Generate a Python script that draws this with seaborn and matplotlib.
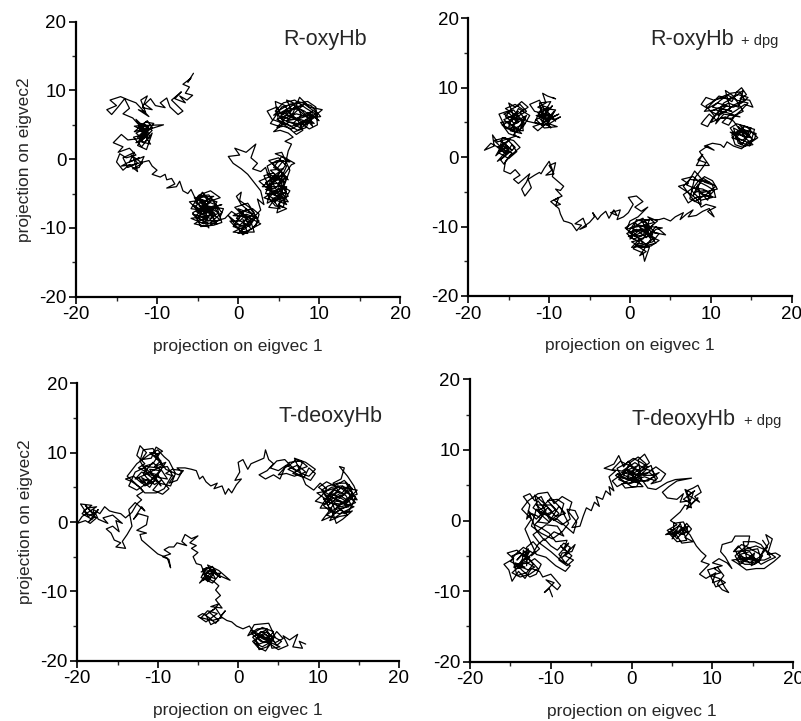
import matplotlib
matplotlib.use("Agg")
import matplotlib.pyplot as plt
from matplotlib.ticker import MultipleLocator
import seaborn as sns
import pandas as pd

# Trajectory of each system projected on the first two eigenvectors (x = eigvec 1, y = eigvec 2)
r_oxy = [
    (-5.5, 12.5), (-6.2, 11.2), (-5.8, 11.8), (-6.8, 10.9), (-6.0, 10.5), (-6.5, 9.6), (-5.6, 9.3), (-6.3, 8.6),
    (-7.2, 9.2), (-6.5, 8.2), (-7.8, 8.8), (-7.0, 9.8), (-8.2, 8.6), (-7.5, 7.8), (-6.8, 7.0), (-7.4, 6.5),
    (-8.4, 7.6), (-8.8, 8.9), (-9.6, 8.2), (-9.0, 7.5),
    (-10.2, 7.8), (-10.8, 8.8), (-11.5, 8.0), (-10.6, 7.2), (-11.8, 7.5), (-11.2, 9.2), (-12.0, 8.6), (-11.4, 6.8),
    (-12.3, 7.2), (-11.0, 6.2), (-12.6, 8.2), (-13.5, 8.6),
    (-14.5, 9.1), (-15.8, 8.6), (-15.0, 7.8), (-16.2, 7.2), (-15.6, 6.5), (-14.8, 7.6), (-14.0, 8.8), (-13.4, 7.4),
    (-14.2, 6.6), (-13.0, 6.0),
    (-12.4, 5.2), (-11.6, 4.4), (-12.8, 4.0), (-11.2, 5.6), (-10.6, 4.6), (-12.0, 3.4), (-11.0, 3.0), (-12.6, 5.8),
    (-11.8, 4.9), (-9.2, 5.0), (-11.4, 4.2), (-12.2, 2.6), (-10.8, 2.2), (-11.6, 3.6), (-12.9, 3.2), (-11.9, 1.8),
    (-10.6, 3.8), (-11.3, 1.4), (-12.4, 2.0), (-11.0, 4.8), (-12.4, 4.6), (-11.4, 5.4), (-10.4, 5.2), (-11.8, 3.0),
    (-12.6, 3.8), (-11.2, 4.6), (-12.4, 3.2), (-11.6, 2.4), (-10.8, 3.4), (-12.2, 4.2), (-11.4, 5.0), (-12.8, 4.8),
    (-11.0, 3.8), (-11.8, 2.8), (-12.6, 2.4), (-11.4, 3.2), (-10.6, 4.2), (-12.0, 5.2), (-11.6, 4.0), (-12.2, 3.0),
    (-13.6, 2.8), (-14.4, 3.6), (-15.4, 2.4), (-14.2, 1.8), (-14.8, 1.0), (-13.4, 1.6),
    (-12.6, 0.6), (-13.8, 0.2), (-14.6, 0.8), (-15.0, -0.4), (-14.2, -1.6), (-13.4, -0.8), (-12.4, -1.8), (-12.8, -0.2),
    (-11.6, 0.4), (-12.2, -1.2), (-13.0, -1.4), (-11.8, -0.6), (-13.2, 0.6), (-12.4, -0.6), (-13.6, -1.2), (-14.2, 0.2),
    (-12.8, 1.0), (-13.4, -0.4), (-12.2, 0.2), (-13.8, -0.6), (-14.4, -1.0), (-13.0, -0.8), (-11.0, -0.2), (-10.6, -1.0),
    (-10.0, -1.6), (-10.6, -2.2), (-9.6, -2.6), (-9.0, -2.2), (-8.8, -3.0), (-8.2, -2.8), (-7.8, -3.6), (-8.8, -4.2),
    (-7.6, -4.0), (-7.2, -3.2), (-6.8, -4.6), (-6.2, -5.0), (-5.8, -4.4), (-5.4, -5.4),
    (-5.0, -6.0), (-4.2, -5.2), (-3.6, -6.4), (-4.8, -7.2), (-5.6, -6.6), (-4.4, -8.0), (-3.2, -7.4), (-2.6, -6.2),
    (-3.8, -5.8), (-5.2, -8.4), (-4.0, -9.2), (-5.6, -8.0), (-3.4, -8.6), (-2.4, -7.8), (-4.6, -6.4), (-3.0, -5.4),
    (-5.4, -5.6), (-4.2, -7.6), (-3.6, -10.0), (-4.4, -8.8), (-2.8, -9.0), (-3.8, -6.8), (-1.8, -7.2), (-2.2, -8.4),
    (-3.0, -6.8), (-4.6, -7.4), (-5.8, -7.2), (-4.8, -5.2), (-3.4, -4.6), (-2.2, -5.6), (-3.2, -6.0), (-4.0, -6.6),
    (-5.0, -8.8), (-4.6, -9.8), (-3.0, -9.6), (-2.0, -9.2), (-2.6, -7.0), (-3.8, -7.8), (-5.4, -7.0), (-4.4, -6.0),
    (-2.8, -8.0), (-3.6, -9.0), (-4.8, -8.2), (-3.4, -7.2), (-2.0, -6.6),
    (-5.2, -7.6), (-3.8, -8.4), (-4.6, -5.8), (-2.8, -6.6), (-4.2, -9.4), (-5.8, -8.6), (-3.2, -8.2), (-4.8, -6.8),
    (-2.4, -7.2), (-3.6, -5.2), (-5.0, -5.4), (-4.0, -7.0), (-2.6, -9.4), (-4.8, -9.2), (-5.6, -7.8), (-3.4, -6.2),
    (-4.4, -4.8), (-5.2, -6.4), (-3.0, -7.8), (-4.2, -8.6), (-5.4, -9.4), (-3.8, -9.8), (-2.2, -8.8), (-3.6, -7.6),
    (-4.8, -6.0), (-6.0, -6.2), (-4.6, -7.8), (-3.2, -5.8), (-2.0, -7.8), (-3.4, -9.2), (-1.6, -8.6),
    (-0.8, -7.6), (0.2, -8.4), (-0.4, -9.4), (0.8, -9.8), (-0.6, -10.6), (1.2, -10.8), (0.6, -8.8), (1.6, -9.2),
    (0.0, -7.2), (1.8, -8.0), (0.4, -6.6), (-0.2, -5.4), (0.4, -4.8), (0.2, -6.0), (1.4, -7.0), (2.4, -8.6),
    (1.0, -8.0), (0.2, -9.0), (-1.0, -9.0), (-0.2, -10.0), (1.0, -9.4), (0.4, -10.6), (2.0, -10.6), (1.4, -8.4),
    (-0.6, -8.2), (0.6, -7.6), (1.8, -7.2), (2.6, -8.0), (2.2, -9.6), (1.6, -10.2),
    (0.8, -8.4), (-0.4, -7.0), (1.2, -6.4), (2.0, -7.8), (0.2, -9.6), (-1.2, -8.2), (0.6, -11.0), (1.8, -10.0),
    (2.6, -9.0), (1.0, -7.2), (-0.6, -9.8), (0.8, -10.2), (2.2, -8.4), (1.4, -9.8), (-0.2, -8.6), (0.4, -7.8),
    (1.6, -8.6), (2.8, -9.4), (1.2, -10.4), (0.0, -10.8), (2.8, -7.4),
    (2.4, -5.8), (3.2, -6.6), (2.8, -4.6), (2.0, -3.4), (1.2, -2.2), (0.4, -1.4), (-0.6, -0.6), (-1.2, 0.4),
    (0.2, 0.6), (-0.4, 1.6), (1.0, 1.0), (2.2, 2.2), (1.6, 0.2), (2.4, -0.6), (1.8, -1.4), (2.8, -1.8),
    (3.4, -1.2), (3.8, -2.6), (2.6, -3.2), (3.6, -4.2), (4.6, -3.2), (5.2, -1.8), (4.2, -0.6), (5.6, -0.2),
    (4.8, -1.4), (6.0, -2.6), (5.4, -4.4), (4.4, -5.2), (5.8, -5.6), (5.0, -6.6), (6.0, -7.2), (4.8, -7.8),
    (5.6, -4.0), (6.0, -5.0), (4.0, -4.4), (3.2, -2.4), (4.4, -2.0), (5.2, -3.0), (6.6, -0.8), (7.0, -0.6),
    (5.8, 0.2), (4.6, 0.8), (5.4, 1.0), (6.4, -1.6), (5.2, -5.4), (3.6, -6.4), (4.2, -3.6), (5.8, -3.4),
    (4.8, -2.4), (3.4, -3.4), (4.2, -4.8), (5.4, -6.0), (6.2, -6.2), (5.0, -4.2), (3.8, -5.6), (4.6, -6.8),
    (5.6, -7.0), (6.0, -4.0), (4.4, -4.0), (3.0, -4.0), (4.0, -3.0), (5.4, -2.4), (6.2, -3.0), (4.6, -1.0),
    (3.8, -0.2), (5.0, 0.2), (6.0, -1.0), (5.0, -3.6), (6.4, -4.6), (5.8, -5.8), (4.8, -5.0), (3.4, -5.0),
    (4.2, -2.6), (5.6, -1.4),
    (4.0, -1.6), (5.4, -3.2), (3.6, -2.0), (4.8, -4.6), (3.2, -5.6), (4.6, -6.2), (5.8, -4.8), (4.2, -5.8),
    (5.2, -7.2), (3.8, -7.0), (4.4, -6.0), (6.2, -5.4), (5.0, -2.8), (3.8, -3.8), (5.6, -2.0), (4.4, -1.2),
    (5.4, 0.4), (6.4, -0.4), (4.8, -0.2), (3.6, -1.0), (4.2, -3.2), (5.8, -2.8), (4.6, -4.2), (3.4, -4.4),
    (5.2, -5.0), (6.0, -6.6), (4.8, -6.0), (3.6, -5.2), (5.4, -4.2), (4.4, -3.0),
    (5.8, -1.0), (6.2, 1.2), (6.6, 2.2), (5.8, 2.6), (6.8, 3.2), (6.2, 3.8),
    (5.2, 4.2), (4.4, 4.0), (5.6, 5.2), (4.2, 5.8), (3.6, 7.0), (4.8, 7.6), (5.4, 6.4), (6.6, 7.2),
    (6.0, 8.6), (7.2, 8.0), (7.8, 6.4), (6.8, 5.2), (7.6, 4.6), (8.4, 5.8), (9.2, 4.8), (8.6, 6.8),
    (10.0, 5.6), (9.4, 6.2), (10.4, 7.2), (8.8, 7.6), (7.6, 9.0), (6.6, 6.2), (5.8, 7.8), (4.6, 8.4),
    (5.0, 5.6), (6.2, 4.6), (7.2, 3.6), (8.0, 4.2), (7.4, 5.6), (6.4, 6.8), (7.0, 7.6), (8.2, 7.0),
    (9.0, 6.2), (8.0, 5.4), (6.8, 6.0), (5.6, 6.8), (4.4, 6.4), (5.2, 7.2), (6.4, 8.0), (7.6, 8.2),
    (8.6, 8.4), (9.6, 7.6), (9.8, 5.0), (8.8, 4.4), (7.8, 5.2), (6.6, 4.4), (5.6, 4.8), (4.8, 4.6),
    (5.8, 6.0), (7.2, 6.6), (8.4, 6.2), (9.2, 7.0), (7.0, 5.8), (6.0, 5.6), (7.4, 7.2), (8.0, 7.8),
    (5.0, 6.6), (6.2, 7.4), (7.8, 7.2), (9.0, 5.6), (7.4, 4.2), (5.8, 5.2), (4.6, 7.0), (5.6, 8.2),
    (7.0, 8.6), (8.4, 7.4), (9.8, 6.4), (8.2, 5.0), (6.4, 5.4), (5.0, 4.8), (4.0, 5.2), (5.4, 7.6),
    (6.8, 8.0), (8.0, 6.6), (9.4, 5.2), (7.6, 5.8), (6.0, 6.4), (4.8, 5.8), (6.6, 4.8), (8.6, 5.4),
    (9.6, 6.8), (8.2, 8.0), (6.8, 7.4), (5.4, 5.8), (7.2, 5.0), (8.8, 6.0), (10.2, 6.2), (9.0, 7.8),
    (7.4, 8.4), (6.0, 7.2), (5.2, 6.2), (6.6, 5.8), (7.8, 6.0), (9.2, 6.6), (8.4, 4.6), (7.0, 4.0),
]

r_oxy_dpg = [
    (-9.6, 8.6), (-9.2, 8.4), (-10.2, 8.8), (-10.8, 9.2), (-10.4, 7.8), (-11.4, 7.2), (-10.2, 6.6), (-9.6, 7.4),
    (-10.8, 5.8), (-9.4, 5.4), (-8.6, 5.8), (-10.0, 4.8), (-9.0, 4.4), (-10.6, 4.2), (-11.6, 5.4), (-10.4, 6.2),
    (-11.8, 6.6), (-12.4, 7.6), (-11.2, 8.2), (-10.0, 5.6), (-8.8, 6.2), (-11.0, 4.8), (-12.0, 4.4), (-11.4, 3.8),
    (-10.2, 5.0), (-9.2, 6.8), (-10.6, 7.0), (-11.2, 5.6), (-9.8, 4.2), (-10.8, 6.4), (-9.6, 6.0), (-11.6, 6.0),
    (-10.4, 5.4), (-11.4, 6.4), (-9.8, 7.0), (-10.8, 7.4), (-11.8, 5.0), (-10.2, 4.6), (-9.4, 6.6), (-10.6, 5.0),
    (-11.2, 7.8), (-9.8, 8.0), (-10.4, 6.8), (-9.2, 5.2), (-10.0, 6.2), (-11.0, 5.4), (-10.6, 4.6),
    (-12.8, 5.2), (-13.6, 6.4), (-12.6, 7.2), (-13.4, 8.0), (-14.2, 7.2), (-15.0, 7.8), (-14.4, 6.0), (-15.6, 5.4),
    (-14.8, 4.6), (-13.8, 5.0), (-15.2, 6.6), (-16.2, 6.2), (-15.4, 4.2), (-14.0, 3.6), (-13.2, 4.4), (-12.4, 6.0),
    (-13.8, 7.0), (-14.6, 5.2), (-16.0, 5.0), (-15.0, 3.4), (-13.6, 2.8), (-14.4, 3.2), (-13.0, 5.6), (-14.2, 4.8),
    (-15.4, 5.8), (-14.8, 6.8), (-13.6, 7.6), (-12.8, 6.6), (-14.0, 5.8), (-15.8, 4.6), (-14.6, 4.0), (-13.2, 3.8),
    (-13.4, 5.4), (-14.8, 5.8), (-13.8, 6.6), (-15.0, 5.0), (-14.2, 4.2), (-13.0, 4.8), (-14.4, 6.8), (-15.6, 6.2),
    (-14.0, 5.2), (-12.8, 6.0), (-13.6, 4.0), (-15.0, 4.4), (-14.6, 5.6), (-13.2, 6.8), (-14.2, 7.6), (-15.4, 7.0),
    (-13.8, 5.8), (-14.8, 3.8), (-13.4, 3.4), (-14.4, 4.6), (-14.2, 3.0),
    (-15.2, 2.6), (-16.4, 2.2), (-17.0, 3.2), (-16.8, 1.6), (-18.0, 1.0), (-17.2, 2.0), (-16.0, 1.2), (-15.4, 0.4),
    (-14.6, 1.8), (-14.0, 0.8), (-15.0, -0.2), (-16.2, 0.6), (-15.8, 2.8), (-14.4, 2.4), (-13.6, 1.4), (-14.8, 0.2),
    (-15.6, -1.0), (-16.0, -0.4), (-15.0, 0.8), (-16.4, 1.4), (-15.6, 2.0), (-14.6, 1.0), (-16.0, 2.4), (-15.2, 1.6),
    (-16.6, 0.2), (-15.8, 1.8), (-14.8, 2.6), (-16.2, 1.0), (-15.2, 0.6), (-16.8, 2.4), (-15.4, 2.8), (-14.2, 1.4),
    (-15.6, 0.0), (-16.4, -0.6), (-15.0, 1.2), (-16.0, 1.8), (-14.6, 0.6), (-15.4, -0.6),
    (-15.6, -2.0), (-14.8, -2.4), (-14.2, -1.8), (-13.6, -2.6), (-14.4, -3.2), (-13.8, -3.8), (-13.0, -3.0), (-12.4, -2.4),
    (-12.8, -3.6), (-13.4, -4.6), (-13.0, -5.6), (-12.2, -4.4), (-12.6, -3.2), (-11.8, -2.6), (-11.2, -2.2), (-11.0, -2.4),
    (-10.6, -1.6), (-10.0, -0.6), (-9.6, -1.8), (-10.4, -2.6), (-9.4, -2.4), (-10.0, -1.2), (-9.2, -0.8), (-9.6, -2.8),
    (-9.0, -3.4),
    (-8.6, -3.8), (-8.2, -4.2), (-8.6, -4.8), (-9.2, -4.6), (-8.4, -5.6), (-9.4, -6.2), (-8.6, -6.8), (-9.2, -7.0),
    (-8.8, -5.8), (-9.8, -6.4), (-8.8, -7.4), (-8.6, -8.2), (-8.2, -9.2), (-7.6, -9.4), (-7.2, -9.6),
    (-6.6, -10.6), (-6.0, -9.8), (-6.8, -9.6), (-5.8, -8.8), (-5.4, -10.0), (-6.2, -10.4), (-5.0, -9.4), (-4.4, -8.6),
    (-4.6, -8.0), (-4.0, -9.0), (-3.6, -8.4),
    (-3.0, -7.8), (-2.6, -8.8), (-2.0, -7.6), (-1.6, -8.4), (-2.4, -8.0), (-1.2, -7.6), (-1.6, -9.0), (-0.8, -8.6),
    (-0.2, -8.0), (0.4, -6.8), (-0.2, -5.8), (0.8, -5.6), (1.6, -6.4), (0.6, -7.2), (1.4, -7.8), (2.2, -7.2),
    (1.0, -8.6), (0.0, -9.2), (-0.4, -10.4), (0.6, -10.0), (1.4, -9.4), (2.4, -9.0), (2.0, -10.4), (0.8, -11.2),
    (-0.2, -11.4), (1.2, -12.2), (0.4, -13.2), (1.6, -13.8), (1.8, -15.0), (2.4, -13.0), (1.0, -12.8), (2.8, -12.2),
    (3.6, -11.0), (2.6, -10.8), (4.4, -11.2), (3.2, -10.0), (2.0, -11.6), (1.2, -10.8), (0.2, -10.2), (1.8, -9.8),
    (3.0, -9.4), (2.2, -8.6), (3.4, -9.2), (2.6, -10.0), (1.4, -11.4), (0.4, -11.8), (-0.4, -11.0), (0.8, -10.4),
    (2.2, -11.0), (3.0, -11.6), (2.0, -12.6), (1.0, -11.6), (-0.2, -10.8), (0.6, -9.4), (1.8, -10.8), (2.8, -9.8),
    (1.6, -11.8), (0.2, -12.2), (1.4, -13.0), (2.6, -12.8), (3.6, -12.0), (2.4, -11.4), (3.2, -10.4), (4.0, -10.2),
    (1.0, -9.8), (2.2, -10.2), (0.4, -10.8), (1.6, -12.4), (0.6, -12.6), (2.0, -13.6), (1.2, -14.2), (2.6, -11.8),
    (1.4, -10.2), (0.0, -11.8), (0.8, -9.0), (2.0, -9.4), (3.0, -10.8), (1.8, -11.2), (0.6, -11.4), (-0.6, -10.2),
    (0.2, -9.6), (1.6, -8.8), (2.8, -11.2), (1.2, -11.8), (0.2, -13.0), (1.8, -12.8), (3.2, -12.4), (2.2, -10.8),
    (1.4, -9.0), (3.6, -9.0),
    (4.2, -8.8), (5.0, -9.2), (5.6, -8.6), (6.6, -8.0), (6.2, -9.0), (7.0, -8.2), (7.8, -7.6), (7.2, -8.6),
    (8.2, -8.4), (9.0, -7.8), (9.8, -7.4), (10.4, -8.6), (9.6, -7.8), (10.6, -7.2), (9.4, -6.8), (8.8, -7.2),
    (8.4, -6.2), (7.6, -5.4), (6.8, -4.8), (6.0, -4.2), (7.2, -3.8), (6.4, -3.2), (7.8, -2.8), (8.6, -3.6),
    (9.6, -4.2), (10.4, -4.8), (9.8, -5.6), (8.6, -5.2), (10.8, -4.6), (10.2, -3.4), (9.2, -2.8), (8.2, -4.4),
    (9.6, -6.2), (10.0, -5.2), (9.0, -4.6), (7.8, -4.4), (6.6, -5.4), (7.2, -6.6), (8.2, -5.8), (9.2, -5.6),
    (10.6, -5.8), (10.2, -4.0), (9.2, -3.6), (8.0, -2.0), (7.0, -4.0), (8.6, -4.8),
    (8.2, -5.0), (9.4, -4.8), (10.2, -5.8), (8.8, -6.2), (7.6, -4.8), (8.6, -3.2), (9.8, -3.6), (7.4, -3.2),
    (6.6, -4.2), (8.0, -6.4), (9.4, -5.4), (10.6, -4.2), (9.0, -3.0), (7.8, -5.6), (8.4, -4.0),
    (8.8, -6.8), (7.4, -6.0), (8.0, -3.0), (8.8, -1.8), (9.4, -0.8), (8.4, -0.4), (9.0, 0.4),
    (8.2, -1.2), (9.8, -1.2), (8.6, 0.8),
    (9.6, 1.6), (10.4, 1.0), (9.2, 1.6), (10.2, 2.0), (11.2, 1.8), (11.6, 1.4), (12.0, 2.2),
    (12.8, 1.6), (13.8, 1.2), (14.6, 2.2), (15.4, 2.6), (15.6, 3.4), (14.4, 3.8), (13.2, 3.4), (12.6, 2.8),
    (14.0, 2.4), (15.0, 4.2), (13.6, 4.6), (14.8, 3.0), (12.8, 4.2), (13.4, 2.0), (14.2, 1.6), (15.2, 1.8),
    (13.8, 3.2), (12.4, 3.6), (13.6, 2.6), (14.8, 2.0), (15.8, 2.8), (14.4, 4.4), (13.2, 4.8), (12.4, 4.2),
    (13.8, 1.8), (15.0, 3.6), (14.0, 4.0), (13.0, 2.6),
    (13.4, 3.8), (14.6, 3.4), (15.2, 2.4), (14.0, 1.4), (13.0, 1.8), (12.6, 3.2), (14.2, 4.4), (15.4, 4.0),
    (14.8, 1.6), (13.6, 2.2), (12.8, 3.6), (14.0, 3.0), (15.0, 2.8), (13.4, 4.4), (14.4, 2.6),
    (12.8, 5.2), (11.8, 5.8), (10.6, 5.4), (9.8, 6.2), (9.2, 5.4), (8.8, 4.8), (9.6, 4.4), (10.2, 5.6),
    (11.2, 6.8), (12.0, 7.4), (10.8, 7.8), (9.6, 7.0), (8.8, 7.6), (9.4, 8.6), (10.4, 8.2), (11.6, 8.6),
    (12.6, 8.0), (13.2, 9.4), (13.8, 10.0), (14.4, 9.0), (13.6, 8.4), (14.8, 8.2), (15.2, 7.2), (14.2, 7.6),
    (13.2, 6.8), (12.4, 6.2), (11.4, 5.0), (12.2, 4.6), (13.0, 6.0), (14.0, 6.6), (12.8, 8.8), (11.8, 9.6),
    (12.4, 7.0), (11.0, 6.0), (10.0, 6.6), (11.6, 7.4), (12.8, 7.2), (13.8, 7.8), (14.6, 8.6), (13.4, 9.0),
    (12.2, 8.4), (11.0, 8.8), (10.0, 7.6), (9.2, 6.6), (10.6, 6.8), (12.0, 6.4), (13.6, 5.8), (11.6, 6.2),
    (10.6, 4.8), (11.4, 7.0), (12.6, 6.6), (10.2, 7.2), (11.2, 8.2), (12.4, 9.2), (13.6, 9.4), (14.2, 8.2),
    (13.0, 7.6), (11.8, 6.6), (10.4, 6.0), (9.4, 7.4), (10.8, 8.4), (12.0, 9.0), (13.2, 8.2), (14.6, 7.8),
    (13.8, 6.8), (12.6, 5.6), (11.2, 5.6), (10.0, 5.0), (11.6, 7.8), (12.8, 8.6), (14.0, 9.6), (13.4, 7.2),
    (12.2, 7.8), (11.0, 7.0),
]

t_deoxy = [
    (8.4, -17.6), (7.6, -17.2), (8.0, -18.2), (6.8, -18.0), (7.4, -16.2), (6.4, -17.0), (5.6, -16.4), (6.2, -17.8),
    (5.0, -18.4), (4.0, -17.6), (3.4, -18.6), (2.4, -18.0), (1.8, -17.2), (2.8, -16.4), (3.6, -17.0), (4.4, -15.8),
    (3.0, -15.2), (2.2, -15.8), (1.2, -16.4), (2.0, -14.8), (3.8, -14.6), (4.6, -16.6), (3.2, -17.4), (2.4, -16.6),
    (3.4, -16.2), (4.2, -17.2), (3.0, -18.0), (2.0, -17.4), (2.8, -15.8), (3.8, -16.0), (4.8, -17.8), (5.4, -17.2),
    (4.2, -16.4), (3.2, -16.8), (2.2, -16.2), (1.6, -15.6),
    (3.0, -16.4), (4.0, -17.0), (2.6, -17.6), (1.8, -16.6), (3.4, -15.6), (4.4, -16.8), (3.6, -18.0), (2.6, -18.4),
    (2.2, -17.0), (3.2, -16.0), (4.6, -17.4), (5.6, -16.8), (4.8, -15.8), (3.8, -17.4), (2.8, -17.2), (1.6, -16.0),
    (2.4, -15.4), (3.6, -15.4), (4.2, -18.2), (5.2, -18.0), (3.0, -16.8), (2.0, -16.0),
    (1.4, -15.0), (0.6, -15.4), (-0.2, -15.0), (-0.8, -14.4),
    (-1.4, -14.2), (-2.2, -13.6), (-1.6, -12.8), (-2.8, -14.6), (-3.6, -13.8), (-4.4, -13.2), (-5.0, -13.6), (-4.0, -14.4),
    (-2.6, -13.2), (-3.8, -12.8), (-4.6, -13.8), (-3.2, -14.2), (-2.0, -13.8), (-2.8, -12.4), (-4.0, -13.4), (-3.4, -14.8),
    (-2.4, -14.2), (-3.6, -13.0),
    (-3.0, -12.6), (-2.4, -11.8), (-3.4, -12.2), (-2.0, -12.4), (-2.8, -11.2), (-2.2, -10.6), (-2.8, -9.8), (-2.4, -9.2),
    (-3.0, -8.6), (-4.0, -8.0), (-4.8, -8.8), (-3.6, -7.0), (-4.6, -7.2), (-3.2, -6.4), (-2.6, -7.6), (-1.0, -8.4),
    (-2.4, -7.0), (-3.8, -6.2), (-2.8, -8.2), (-4.2, -7.6), (-3.4, -8.0), (-4.4, -8.4), (-3.2, -7.2), (-2.2, -8.0),
    (-3.6, -6.6), (-4.4, -6.8), (-3.6, -8.4), (-2.8, -7.0), (-4.0, -6.6), (-4.6, -8.0), (-3.2, -8.8), (-2.2, -7.4),
    (-3.8, -7.4), (-4.4, -7.6), (-3.0, -6.8), (-3.8, -8.6), (-4.6, -6.2),
    (-5.2, -6.0), (-5.6, -5.0), (-5.0, -4.4), (-5.8, -3.8), (-5.2, -3.4), (-6.0, -3.0), (-5.0, -2.0), (-5.8, -2.4),
    (-6.6, -1.8), (-7.0, -2.8), (-6.4, -3.4), (-7.6, -3.0), (-8.0, -3.6),
    (-8.6, -3.6), (-9.2, -4.0), (-8.4, -4.6), (-9.4, -5.0), (-8.6, -5.4), (-8.4, -6.6), (-8.8, -5.2), (-9.6, -4.8),
    (-10.0, -4.6),
    (-10.6, -4.0), (-11.2, -3.4), (-12.0, -2.6), (-12.2, -1.8), (-11.4, -1.6), (-12.6, -1.2), (-12.0, -0.8),
    (-11.4, -0.4), (-11.2, 0.8), (-12.4, 1.2), (-13.0, 0.4), (-12.0, 2.2), (-11.6, 1.6), (-12.8, 2.8), (-13.6, 1.8),
    (-13.2, -0.6), (-13.8, -1.8), (-14.4, -2.8), (-14.0, -3.8), (-15.2, -3.6), (-14.6, -3.0), (-15.4, -2.6),
    (-15.8, -1.6), (-16.4, -1.0), (-15.6, -0.6), (-14.8, -1.4), (-15.2, 0.2), (-14.4, -0.2), (-15.6, 1.0), (-16.8, 0.6),
    (-16.2, -0.2), (-17.4, 0.4),
    (-17.8, 1.4), (-18.6, 0.8), (-19.2, 1.6), (-18.2, 2.4), (-19.6, 2.6), (-18.8, 1.2), (-17.6, 0.6), (-18.4, -0.2),
    (-19.0, 0.2), (-20.0, -0.2), (-19.4, 0.8), (-18.4, 1.6), (-17.6, 2.2), (-18.8, 2.0), (-19.4, 1.2), (-18.2, 0.4),
    (-17.4, 1.8), (-18.6, 0.0), (-17.8, 0.8), (-19.0, 2.4), (-18.0, 1.2),
    (-18.0, 1.8), (-17.2, 1.2), (-16.6, 2.2), (-16.0, 1.6), (-15.4, 1.4), (-14.6, 1.2), (-14.0, 0.6),
    (-13.2, 1.4), (-12.6, 2.6), (-12.0, 3.2), (-12.6, 3.8), (-11.8, 4.4),
    (-12.2, 5.0), (-13.2, 5.8), (-14.0, 6.2), (-13.0, 6.6), (-12.0, 5.6), (-11.2, 6.2), (-10.4, 5.4), (-9.6, 6.0),
    (-10.6, 4.6), (-9.4, 4.0), (-8.6, 4.8), (-9.2, 5.6), (-10.0, 6.8), (-11.4, 7.2), (-12.4, 7.8), (-11.6, 8.4),
    (-12.6, 9.6), (-12.2, 11.0), (-11.4, 10.0), (-12.0, 9.0), (-10.8, 9.2), (-10.2, 10.8), (-9.4, 10.2), (-10.4, 9.6),
    (-9.6, 8.8), (-10.4, 8.0), (-9.0, 8.6), (-11.0, 5.0), (-12.4, 6.4), (-11.6, 5.2), (-10.2, 6.0), (-11.0, 7.6),
    (-9.6, 7.4), (-10.6, 8.6), (-11.8, 7.0),
    (-10.8, 5.6), (-12.0, 6.4), (-11.4, 5.4), (-10.4, 6.6), (-9.6, 5.2), (-10.8, 7.0), (-11.8, 8.0), (-10.6, 8.4),
    (-9.8, 9.8), (-11.0, 10.0), (-10.2, 9.2), (-9.4, 8.2), (-10.6, 7.4), (-11.6, 6.8), (-12.8, 6.2), (-12.0, 7.2),
    (-9.8, 6.4), (-8.8, 6.2), (-9.6, 7.6), (-10.8, 6.0),
    (-12.6, 4.6), (-13.6, 5.2), (-12.8, 7.2), (-11.4, 8.0), (-10.0, 7.8), (-8.8, 8.0), (-8.2, 6.8), (-9.2, 4.8),
    (-10.2, 4.2), (-11.6, 4.2), (-12.8, 5.6), (-13.8, 6.6), (-12.6, 8.4), (-11.2, 9.6), (-10.0, 10.4), (-9.2, 9.4),
    (-8.6, 8.8), (-7.8, 7.0), (-8.4, 5.2), (-9.8, 5.6), (-11.2, 6.8), (-12.2, 8.8), (-11.8, 10.4), (-10.6, 10.6),
    (-9.8, 9.0), (-9.0, 7.6), (-7.4, 6.8), (-6.8, 7.4),
    (-8.2, 7.6), (-9.0, 7.0), (-8.0, 6.6), (-8.6, 5.6), (-7.6, 6.0),
    (-7.0, 7.2), (-7.6, 7.8), (-6.6, 7.8), (-5.8, 7.6), (-5.2, 7.4),
    (-4.8, 6.2), (-4.4, 6.6), (-4.0, 5.8), (-3.4, 5.2), (-2.6, 5.6), (-3.0, 4.8), (-2.0, 5.2), (-1.6, 4.0),
    (-1.2, 4.8), (-0.8, 4.2), (-0.2, 5.4), (0.4, 6.2), (-0.4, 6.0), (0.2, 7.2), (0.0, 8.6), (0.6, 9.0),
    (1.2, 7.6), (1.6, 8.4), (2.4, 8.8), (3.2, 9.2), (3.4, 10.4), (3.8, 9.0), (4.4, 8.4), (3.6, 7.4),
    (2.6, 6.8), (3.4, 6.2), (4.4, 6.8), (5.2, 6.2), (5.8, 7.8), (6.6, 8.4), (7.2, 9.0), (8.0, 8.6),
    (7.6, 7.6), (6.8, 7.0), (8.2, 6.4), (8.8, 7.8), (9.6, 7.0), (9.0, 6.0),
    (6.2, 7.6), (7.4, 8.2), (8.4, 7.2), (7.0, 6.6), (6.0, 7.0), (5.0, 6.8), (6.4, 8.6), (7.8, 8.8),
    (8.6, 8.0), (7.2, 7.4), (6.0, 8.2), (5.0, 7.4), (4.0, 7.8), (4.8, 8.8), (5.8, 9.0), (6.8, 7.8),
    (7.8, 7.0), (8.8, 6.6), (9.6, 7.6), (8.4, 8.6), (7.0, 9.2), (8.4, 5.4),
    (9.4, 4.6), (10.2, 5.6), (11.0, 4.8), (10.4, 3.8), (9.6, 3.0), (10.8, 2.6), (11.6, 3.6), (12.4, 4.6),
    (11.8, 5.6), (12.8, 6.2), (13.2, 7.8), (12.6, 8.0), (13.6, 6.6), (14.4, 5.2), (14.8, 4.0), (13.8, 3.6),
    (14.6, 2.8), (13.4, 2.2), (12.4, 1.6), (11.6, 0.8), (10.4, 0.2), (11.2, 1.4), (12.0, 2.8), (13.2, 1.2),
    (14.2, 1.6), (13.0, 0.4), (12.2, -0.2), (11.6, 2.0), (10.2, 2.0), (11.4, 4.2), (12.6, 3.4), (13.6, 4.6),
    (14.2, 3.4), (13.0, 5.2), (12.0, 4.0), (13.4, 3.0), (14.8, 4.6), (12.2, 5.0), (11.0, 3.2), (9.8, 4.2),
    (10.8, 4.4), (11.8, 4.8), (12.8, 4.0), (13.8, 5.4), (14.2, 4.2), (13.2, 2.6), (12.2, 3.4), (11.2, 2.4),
    (10.6, 3.4), (11.8, 1.2), (12.8, 1.8), (13.6, 1.0), (12.6, 0.8), (11.4, 0.2), (12.4, 2.4), (13.6, 2.8),
    (14.4, 3.8), (13.4, 5.6), (12.4, 5.6), (11.2, 5.2), (10.4, 4.6), (11.6, 3.0), (12.8, 3.0), (13.8, 2.2),
    (12.0, 1.8), (11.4, 3.8), (12.6, 4.4), (13.4, 3.8), (14.0, 2.6), (12.8, 2.2), (11.8, 2.6), (10.8, 3.0),
    (11.6, 4.4), (12.4, 5.2), (13.6, 4.2), (14.6, 3.6), (13.8, 1.6), (12.6, 1.2), (11.4, 1.6), (10.6, 2.4),
    (11.8, 3.4), (13.0, 3.8), (14.2, 4.8), (13.2, 6.0), (12.0, 5.2), (11.0, 5.8), (10.0, 5.0), (11.2, 4.0),
    (12.4, 3.0), (13.4, 2.6), (14.4, 2.2), (13.0, 1.4), (12.0, 0.6), (11.0, 1.0), (12.2, 2.0), (13.6, 3.4),
    (14.8, 3.2), (13.8, 4.8), (12.8, 5.2), (11.6, 5.0), (10.6, 4.2), (11.4, 2.8), (12.6, 2.6), (13.8, 3.0),
    (12.4, 4.0),
]

t_deoxy_dpg = [
    (-9.8, -10.8), (-10.2, -9.6), (-10.8, -10.2), (-9.6, -8.8), (-10.6, -8.4), (-9.2, -9.8), (-8.8, -9.2), (-10.0, -7.6),
    (-11.0, -8.0), (-11.4, -7.2),
    (-12.4, -6.8), (-13.2, -8.2), (-14.0, -7.2), (-14.8, -8.6), (-15.2, -7.0), (-15.8, -6.2), (-14.6, -5.4), (-15.4, -4.6),
    (-14.2, -4.2), (-13.4, -5.0), (-12.6, -4.4), (-13.8, -6.2), (-12.8, -6.0), (-12.0, -5.4), (-11.2, -6.2), (-11.8, -7.6),
    (-12.6, -8.0), (-13.6, -7.0), (-14.4, -6.0), (-13.2, -6.6), (-14.2, -6.8), (-13.6, -5.6), (-12.6, -5.2), (-13.8, -4.6),
    (-14.8, -5.0), (-14.2, -7.8), (-13.0, -7.4), (-12.2, -6.2), (-13.4, -4.2),
    (-13.6, -6.4), (-14.6, -6.6), (-13.0, -5.4), (-12.2, -4.6), (-13.4, -3.8), (-14.4, -4.8), (-15.0, -5.8), (-14.0, -6.4),
    (-12.8, -7.0), (-12.0, -6.6), (-13.2, -5.8), (-14.8, -7.4), (-13.8, -8.0), (-12.6, -7.6), (-11.6, -6.8), (-12.4, -5.8),
    (-13.6, -4.8), (-14.2, -5.6), (-12.8, -4.0), (-13.0, -6.4),
    (-13.0, -3.8), (-12.2, -3.0), (-11.4, -4.0), (-12.4, -5.0), (-11.6, -3.4), (-10.8, -2.6),
    (-10.0, -3.6), (-9.2, -4.2), (-8.4, -3.2), (-7.6, -3.8), (-8.2, -5.0), (-7.2, -5.6), (-8.0, -6.4), (-9.0, -5.6),
    (-8.6, -4.6), (-7.4, -4.4), (-7.0, -3.4), (-8.6, -5.2), (-7.8, -4.6), (-8.8, -3.6), (-7.4, -5.0), (-8.2, -6.0),
    (-9.0, -4.8), (-7.8, -3.2), (-8.4, -4.2), (-8.0, -2.8), (-9.4, -3.0), (-10.2, -1.8),
    (-11.0, -1.2), (-12.0, -0.6), (-11.2, 0.4), (-12.4, 1.0), (-13.0, 0.2), (-12.6, 2.2), (-13.4, 3.4), (-12.6, 3.8),
    (-12.0, 2.8), (-11.2, 3.4), (-10.6, 2.0), (-11.6, 1.4), (-10.2, 0.8), (-9.4, 1.6), (-10.4, 2.8), (-9.2, 3.0),
    (-8.4, 2.4), (-8.8, 0.8), (-9.6, 0.0), (-10.8, 1.2), (-11.8, 2.2), (-10.0, 2.2), (-9.0, 1.0), (-10.4, -0.4),
    (-11.6, -0.2), (-10.6, 1.4), (-11.6, 2.8), (-12.2, 1.8), (-11.0, 0.8), (-9.8, 1.2), (-10.8, 2.4), (-12.0, 3.6),
    (-11.4, 1.0), (-10.2, -0.2), (-9.0, 2.0), (-8.2, 1.0), (-9.4, 0.6), (-10.4, 1.8), (-11.8, 0.2), (-12.8, 1.4),
    (-11.8, -1.4), (-10.8, -2.8), (-9.6, -1.6), (-8.4, -2.2), (-9.2, -0.8), (-10.6, -0.6), (-12.2, -2.0), (-11.4, -3.2),
    (-10.0, -4.4), (-8.8, -5.6), (-7.6, -6.4), (-8.2, -7.2), (-9.4, -6.4), (-10.6, -5.2), (-11.8, -4.8), (-12.6, -2.8),
    (-13.2, -1.2), (-12.4, 0.2), (-13.6, 1.6), (-12.8, 2.8), (-11.6, 3.8), (-10.4, 4.0), (-9.6, 2.4), (-8.6, 3.4),
    (-7.4, 2.6), (-7.8, 1.2), (-6.8, -0.2), (-7.2, -1.8), (-8.2, -0.8), (-9.2, 0.2), (-10.2, 0.2), (-11.0, 2.0),
    (-10.0, 3.2), (-8.8, 1.8), (-7.8, -0.4), (-8.6, -1.6), (-9.8, -2.6), (-11.2, -1.8), (-12.4, -0.8), (-11.8, 1.6),
    (-8.6, -0.6), (-7.6, 0.2), (-8.0, 1.6), (-7.0, 1.4), (-6.6, 0.4),
    (-7.4, -1.0), (-6.4, -0.8), (-6.0, 0.6),
    (-5.6, 1.8), (-5.0, 1.4), (-4.6, 2.6), (-4.0, 2.0), (-4.4, 3.4), (-3.6, 3.0), (-3.2, 4.2), (-2.6, 3.6),
    (-2.8, 4.8), (-2.2, 4.2),
    (-2.8, 6.2), (-2.0, 7.0), (-3.4, 7.4), (-2.2, 8.0), (-1.6, 9.2), (-1.0, 7.6), (-0.4, 8.4), (0.4, 7.2),
    (-0.6, 6.2), (0.2, 5.4), (-1.2, 5.2), (-0.8, 4.6), (0.6, 4.8), (1.2, 6.0), (0.8, 8.6), (1.6, 9.4),
    (2.2, 8.2), (1.4, 7.4), (2.6, 7.0), (3.2, 6.0), (2.4, 5.2), (3.6, 5.6), (4.2, 6.6), (3.0, 7.6),
    (1.8, 6.6), (0.6, 6.4), (-0.2, 7.0), (-1.4, 6.4), (-2.4, 5.6), (-1.8, 4.8), (-0.2, 5.8), (1.0, 5.2),
    (0.0, 6.4), (-1.0, 6.8), (-0.2, 7.8), (1.0, 7.0), (2.0, 7.6), (1.2, 8.2), (0.2, 8.8), (-0.8, 8.0),
    (-1.8, 7.4), (-1.2, 6.0), (0.4, 5.8), (1.6, 5.6), (2.8, 6.2), (2.2, 6.8), (1.0, 6.6), (-0.4, 6.6),
    (0.8, 7.8), (-2.0, 6.4), (-1.0, 5.6), (0.0, 4.8), (1.4, 4.8),
    (-0.6, 7.2), (0.6, 6.0), (1.8, 7.2), (0.4, 8.2), (-1.2, 7.0), (-2.4, 7.2), (-1.4, 8.4), (0.0, 7.6),
    (1.4, 6.4), (2.6, 6.4), (3.4, 6.8), (2.0, 5.6), (0.8, 5.6), (-0.4, 5.2), (-1.6, 5.8), (-0.8, 7.2),
    (0.4, 6.8), (1.8, 8.0), (0.8, 9.0), (-0.2, 8.2), (-1.0, 6.4), (0.2, 6.0), (1.2, 7.0), (2.4, 7.8),
    (3.0, 5.6), (1.6, 6.2), (0.0, 5.6), (-1.8, 6.6), (-0.6, 5.8), (1.0, 6.2),
    (2.0, 4.6), (3.0, 4.4), (4.4, 5.4), (5.4, 5.8), (7.4, 6.0), (5.6, 5.6), (4.6, 4.8), (3.8, 4.0),
    (4.4, 3.2),
    (5.6, 3.0), (6.4, 3.8), (6.0, 2.6), (7.2, 2.8), (6.8, 4.2), (7.6, 4.6), (8.2, 5.0), (8.6, 4.0),
    (7.8, 3.4), (8.4, 2.6), (7.0, 3.6), (7.8, 4.2), (6.4, 3.0), (7.4, 2.4), (8.2, 3.2), (6.8, 1.6),
    (7.6, 3.8), (6.6, 4.4), (7.4, 1.8), (6.6, 2.2), (6.0, 1.2), (5.4, 0.6),
    (4.8, 0.0), (5.6, -0.6), (4.4, -1.4), (5.2, -2.2), (6.2, -1.4), (6.8, -0.4), (7.4, -1.2), (6.6, -2.4),
    (7.6, -3.0), (6.2, -3.2), (5.4, -1.8), (4.2, -2.0), (5.8, -0.8), (6.6, -1.2), (5.6, -2.6), (4.8, -1.2),
    (6.0, -2.0), (7.0, -1.6), (6.4, -0.2), (5.2, -0.4), (5.2, -1.2), (6.4, -2.0), (7.0, -0.8), (5.8, -1.6),
    (4.6, -1.8), (5.6, -3.0), (6.8, -2.8), (6.0, -0.4), (5.0, -2.6), (6.2, -1.0),
    (7.2, -2.0), (8.0, -3.6), (8.6, -4.4), (9.2, -5.0),
    (8.6, -5.8), (9.6, -6.2), (8.4, -7.6), (9.2, -8.2), (10.4, -7.4), (10.0, -8.8), (11.0, -8.4), (11.6, -9.6),
    (12.0, -10.2), (11.2, -9.8), (10.6, -9.0), (11.4, -7.8), (10.6, -6.6), (10.2, -6.8), (11.0, -7.4), (9.8, -7.8),
    (10.8, -8.2), (11.6, -8.8), (10.4, -9.4), (9.4, -7.0), (11.2, -6.4), (10.0, -6.0), (10.8, -5.4),
    (11.8, -6.0), (12.4, -6.8), (11.6, -5.2), (11.0, -4.4), (11.2, -3.4), (12.4, -3.0), (12.8, -2.2),
    (14.6, -2.2), (14.4, -3.4), (13.6, -4.2), (12.8, -5.0), (13.4, -6.2), (14.4, -5.4), (15.2, -4.6), (14.8, -6.4),
    (15.8, -5.8), (16.2, -4.4), (17.0, -3.2), (16.6, -2.0), (17.4, -2.6), (16.8, -4.8), (17.8, -4.6), (18.4, -5.0),
    (17.6, -5.8), (16.4, -6.8), (15.4, -6.8), (14.2, -7.0), (13.0, -6.0), (12.4, -5.6), (13.8, -5.4), (15.0, -5.2),
    (14.0, -4.6), (13.2, -3.6), (12.6, -4.4), (14.6, -4.2), (15.6, -4.0), (16.0, -5.4), (15.0, -6.0), (14.0, -5.8),
    (13.2, -5.0), (14.8, -5.6), (16.4, -5.6), (17.2, -5.2), (16.0, -3.4), (15.2, -3.0), (13.8, -3.0),
    (14.2, -5.2), (15.4, -5.6), (14.6, -4.4), (13.4, -4.8), (13.0, -5.6), (14.0, -6.2), (15.2, -6.2), (16.2, -5.0),
    (15.6, -4.6), (14.4, -3.8), (13.6, -3.4), (12.8, -4.2), (13.6, -5.8), (14.8, -5.0), (16.0, -6.2), (17.0, -5.6),
    (17.8, -5.2), (16.6, -4.2), (15.4, -3.6), (14.2, -4.0), (13.2, -4.6), (14.6, -6.0), (15.8, -5.2), (16.8, -3.8),
    (16.2, -2.8),
]

panel_names = ["R-oxyHb", "R-oxyHb", "T-deoxyHb", "T-deoxyHb"]
panel_suffix = ["", "+ dpg", "", "+ dpg"]
tick_values = [-20, -10, 0, 10, 20]
x_label = "projection on eigvec 1"
y_label = "projection on eigvec2"

sns.set_style("ticks")
plt.rcParams["font.family"] = ["Liberation Sans", "DejaVu Sans"]
plt.rcParams["axes.unicode_minus"] = False

fig = plt.figure(figsize=(8.01, 7.21), dpi=100)

# axes rectangles in figure fraction: left, bottom, width, height
rects = [
    (0.0949, 0.5885, 0.4045, 0.3814),
    (0.5846, 0.5895, 0.4038, 0.3851),
    (0.0965, 0.0836, 0.4016, 0.3848),
    (0.5868, 0.0822, 0.4036, 0.3917),
]
name_pos = [(0.639, 0.915), (0.562, 0.904), (0.626, 0.862), (0.500, 0.838)]
suffix_x = [None, 0.842, None, 0.847]

trajectories = [r_oxy, r_oxy_dpg, t_deoxy, t_deoxy_dpg]

for i, (traj, rect) in enumerate(zip(trajectories, rects)):
    ax = fig.add_axes(rect)
    df = pd.DataFrame(traj, columns=["eig1", "eig2"])
    sns.lineplot(data=df, x="eig1", y="eig2", sort=False, estimator=None,
                 color="black", linewidth=0.9, ax=ax)
    ax.set_xlim(-20, 20)
    ax.set_ylim(-20, 20)
    ax.set_xticks(tick_values)
    ax.set_yticks(tick_values)
    ax.xaxis.set_minor_locator(MultipleLocator(5))
    ax.yaxis.set_minor_locator(MultipleLocator(5))
    ax.tick_params(which="major", direction="out", length=5, width=1.2,
                   labelsize=13.5, pad=2, colors="black")
    ax.tick_params(which="minor", direction="out", length=3, width=1.0)
    for side in ("top", "right"):
        ax.spines[side].set_visible(False)
    for side in ("left", "bottom"):
        ax.spines[side].set_linewidth(1.6)
        ax.spines[side].set_color("black")
    ax.set_xlabel(x_label, fontsize=12.5, labelpad=11)
    if i % 2 == 0:
        ax.set_ylabel(y_label, fontsize=12.5, labelpad=5)
    else:
        ax.set_ylabel("")
    nx, ny = name_pos[i]
    ax.text(nx, ny, panel_names[i], transform=ax.transAxes, fontsize=15.5,
            ha="left", va="baseline")
    if panel_suffix[i]:
        ax.text(suffix_x[i], ny, panel_suffix[i], transform=ax.transAxes,
                fontsize=10.5, ha="left", va="baseline")

fig.savefig("out.png", dpi=100)
